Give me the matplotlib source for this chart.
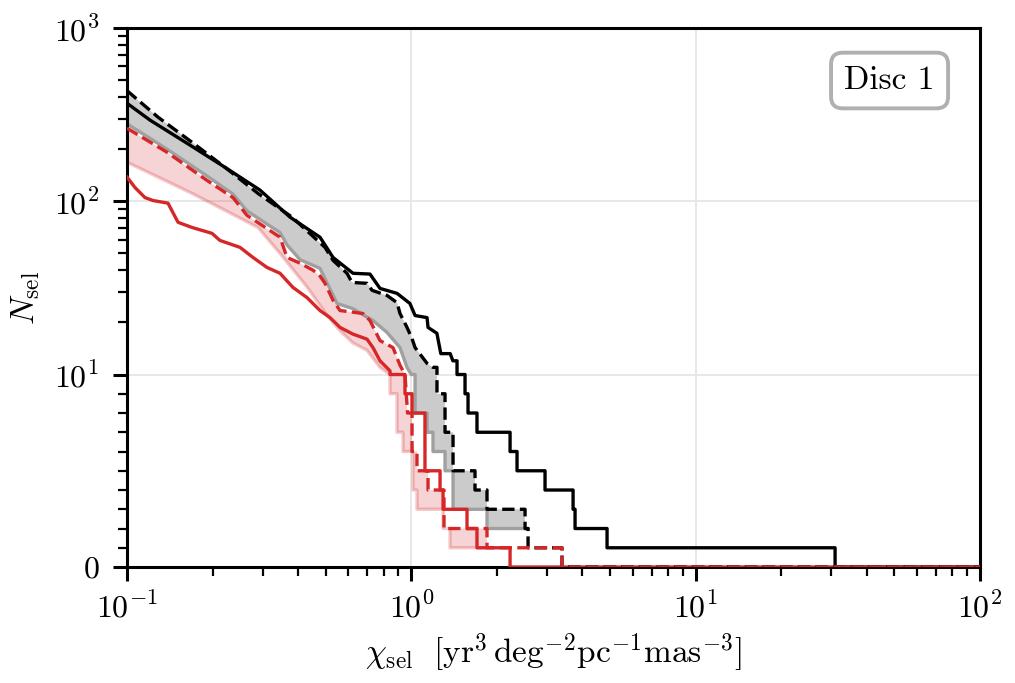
import matplotlib
matplotlib.use('Agg')
import matplotlib.pyplot as plt
from matplotlib.ticker import FixedLocator, NullFormatter

# ---------------- data ----------------
# black solid
bs_x = [0.100, 0.1205, 0.1665, 0.2212, 0.2936, 0.3744, 0.4774, 0.5305, 0.6236, 0.7155,
        0.776, 0.891, 0.989, 1.031, 1.136, 1.145, 1.23, 1.27, 1.37, 1.40, 1.448, 1.448,
        1.545, 1.545, 1.583, 1.583, 1.702, 1.702, 2.225, 2.225, 2.354, 2.354, 2.953, 2.953,
        3.706, 3.706, 3.766, 3.766, 4.880, 4.880, 30.93, 30.93, 100]
bs_n = [368, 294, 211, 157, 116, 81, 62, 47.4, 38.4, 38,
        31.4, 29.4, 25.7, 21.9, 21.3, 18.7, 17.3, 13.2, 13.2, 12, 12, 10,
        10, 9, 9, 8, 8, 7, 7, 6, 6, 5, 5, 4,
        4, 3, 3, 2, 2, 1, 1, 0, 0]

# black dashed (upper edge of grey band)
bd_x = [0.100, 0.1285, 0.1693, 0.2212, 0.2889, 0.3805, 0.4972, 0.5305, 0.594, 0.6186,
        0.6985, 0.728, 0.8214, 0.8906, 0.9126, 0.9658, 1.006, 1.031, 1.136, 1.192,
        1.231, 1.231, 1.314, 1.314, 1.402, 1.402, 1.675, 1.675, 1.846, 1.846, 2.512, 2.512,
        2.574, 2.574, 3.388, 3.388, 100]
bd_n = [435, 306, 219, 157, 111, 81, 54.2, 45.6, 38.4, 34.0,
        33.6, 30.6, 28.6, 26.0, 22.5, 18.7, 16.1, 14.3, 11.6, 11,
        11, 9, 9, 7, 7, 5, 5, 4, 4, 3, 3, 2,
        2, 1, 1, 0, 0]

# grey line (lower edge of grey band)
gl_x = [0.100, 0.1382, 0.1911, 0.2360, 0.2642, 0.3453, 0.3655, 0.4061, 0.4774, 0.548,
        0.6236, 0.7331, 0.8214, 0.9126, 0.9658, 1.0, 1.031, 1.031, 1.136, 1.136, 1.192,
        1.192, 1.314, 1.314, 1.402, 1.402, 1.846, 1.846, 2.574]
gl_n = [280, 200, 140, 110, 88, 66, 56, 46, 41, 25.7,
        24, 20.5, 17.5, 14.3, 11, 10, 10, 8, 8, 7, 7,
        6, 6, 5, 5, 3, 3, 2, 2]

# red dashed (upper edge of red band)
rd_x = [0.100, 0.1382, 0.1911, 0.2360, 0.2642, 0.3453, 0.3655, 0.4061, 0.4511, 0.4774,
        0.4972, 0.5305, 0.5615, 0.676, 0.7155, 0.776, 0.8623, 0.9126, 0.9503, 0.96, 0.97,
        1.006, 1.006, 1.047, 1.047, 1.145, 1.145, 1.303, 1.303, 1.846, 1.846, 3.388, 3.388, 100]
rd_n = [264, 192, 132, 105, 83, 62, 47.4, 43.9, 40, 37,
        33.6, 26.8, 23.4, 22.5, 20.5, 15.7, 14.3, 11.3, 10, 9, 8,
        8, 6, 6, 5, 5, 4, 4, 2, 2, 1, 1, 0, 0]

# light red line (lower edge of red band)
rl_x = [0.100, 0.1285, 0.1693, 0.2212, 0.2889, 0.3453, 0.4297, 0.5053, 0.5615, 0.6236,
        0.6985, 0.776, 0.8416, 0.8416, 0.8906, 0.8906, 0.935, 0.935, 1.014, 1.014, 1.047,
        1.047, 1.293, 1.293, 1.368, 1.368, 1.846]
rl_n = [168, 138, 111, 88.6, 70.6, 50, 32, 22, 17.9, 15.2,
        13.8, 11.0, 10, 9, 9, 7, 7, 6, 6, 4, 4,
        3, 3, 2, 2, 1, 1]

# red solid
rs_x = [0.100, 0.1067, 0.1157, 0.1234, 0.1394, 0.1512, 0.1693, 0.1990, 0.2124, 0.2497,
        0.2774, 0.3107, 0.3453, 0.3836, 0.4297, 0.4774, 0.5177, 0.5615, 0.6236, 0.6985,
        0.7331, 0.776, 0.8416, 0.8416, 0.950, 0.950, 1.006, 1.006, 1.117, 1.117, 1.262,
        1.262, 1.293, 1.293, 1.570, 1.570, 1.702, 1.702, 2.225, 2.225, 100]
rs_n = [138, 120, 105, 101, 97.5, 75.6, 70.6, 65.3, 59.4, 54.2,
        47.4, 41.5, 38.4, 31.8, 27.8, 23.4, 21.3, 18.7, 17.1, 16.0,
        14.3, 12.0, 10.5, 10, 10, 9, 9, 8, 8, 5, 5,
        4, 4, 3, 3, 2, 2, 1, 1, 0, 0]

x_major = [0.1, 1, 10, 100]
x_major_labels = [r'$10^{-1}$', r'$10^{0}$', r'$10^{1}$', r'$10^{2}$']
y_major = [0, 10, 100, 1000]
y_major_labels = [r'$0$', r'$10^{1}$', r'$10^{2}$', r'$10^{3}$']
panel_label = 'Disc 1'

# ---------------- style ----------------
plt.rcParams.update({
    'font.family': 'serif',
    'font.serif': ['cmr10'],
    'mathtext.fontset': 'cm',
    'axes.formatter.use_mathtext': True,
    'axes.unicode_minus': False,
    'font.size': 12,
})

RED = '#d62728'
LW = 1.2

fig = plt.figure(figsize=(5.075, 3.415), dpi=200)
ax = fig.add_axes([0.1251, 0.1698, 0.8404, 0.7892])
ax.set_xscale('log')
ax.set_yscale('symlog', linthresh=10, linscale=1)


def band(ux, un, lx, ln):
    xmax = lx[-1]
    px = [x for x in ux if x <= xmax]
    pn = [n for x, n in zip(ux, un) if x <= xmax]
    return px + lx[::-1], pn + ln[::-1]


gx, gy = band(bd_x, bd_n, gl_x, gl_n)
ax.fill(gx, gy, facecolor='#cbcbcb', edgecolor='none', zorder=2)
ax.plot(gl_x, gl_n, color='#a0a0a0', lw=LW, zorder=2.1)

rx, ry = band(rd_x, rd_n, rl_x, rl_n)
ax.fill(rx, ry, facecolor=RED, alpha=0.2, edgecolor='none', zorder=2.2)
ax.plot(rl_x, rl_n, color=RED, alpha=0.25, lw=LW, zorder=2.3)

ax.plot(bs_x, bs_n, color='black', lw=LW, zorder=3)
ax.plot(rs_x, rs_n, color=RED, lw=LW, zorder=3)
ax.plot(bd_x, bd_n, color='black', lw=LW, ls='--', zorder=3.1)
ax.plot(rd_x, rd_n, color=RED, lw=LW, ls='--', zorder=3.2)

ax.set_xlim(0.1, 100)
ax.set_ylim(0, 1000)

ax.set_xticks(x_major)
ax.set_xticklabels(x_major_labels)
ax.set_yticks(y_major)
ax.set_yticklabels(y_major_labels)
ax.yaxis.set_minor_locator(FixedLocator(list(range(1, 10)) + list(range(20, 100, 10))
                                        + list(range(200, 1000, 100))))
ax.yaxis.set_minor_formatter(NullFormatter())

ax.tick_params(which='both', direction='out', top=False, right=False, labelsize=11.5)
ax.tick_params(which='major', length=5.0, width=1.1)
ax.tick_params(axis='y', which='major', pad=5)
ax.tick_params(axis='x', which='major', pad=4)
ax.tick_params(which='minor', length=3.2, width=0.8)
for s in ax.spines.values():
    s.set_linewidth(1.1)

ax.grid(True, which='major', color='#e8e8e8', lw=0.7)
ax.set_axisbelow(True)

ax.set_xlabel(r'$\chi_\mathrm{sel}\ \ [\mathrm{yr}^3\,\mathrm{deg}^{-2}\mathrm{pc}^{-1}\mathrm{mas}^{-3}]$',
              fontsize=12, labelpad=3)
ax.set_ylabel(r'$N_\mathrm{sel}$', fontsize=12, labelpad=4)

ax.text(0.894, 0.9026, panel_label, transform=ax.transAxes, ha='center', va='center',
        fontsize=12, zorder=5,
        bbox=dict(boxstyle='round,pad=0.4,rounding_size=0.35', facecolor='white',
                  edgecolor='#b0b0b0', linewidth=1.4))

fig.savefig('out.png', dpi=200)
